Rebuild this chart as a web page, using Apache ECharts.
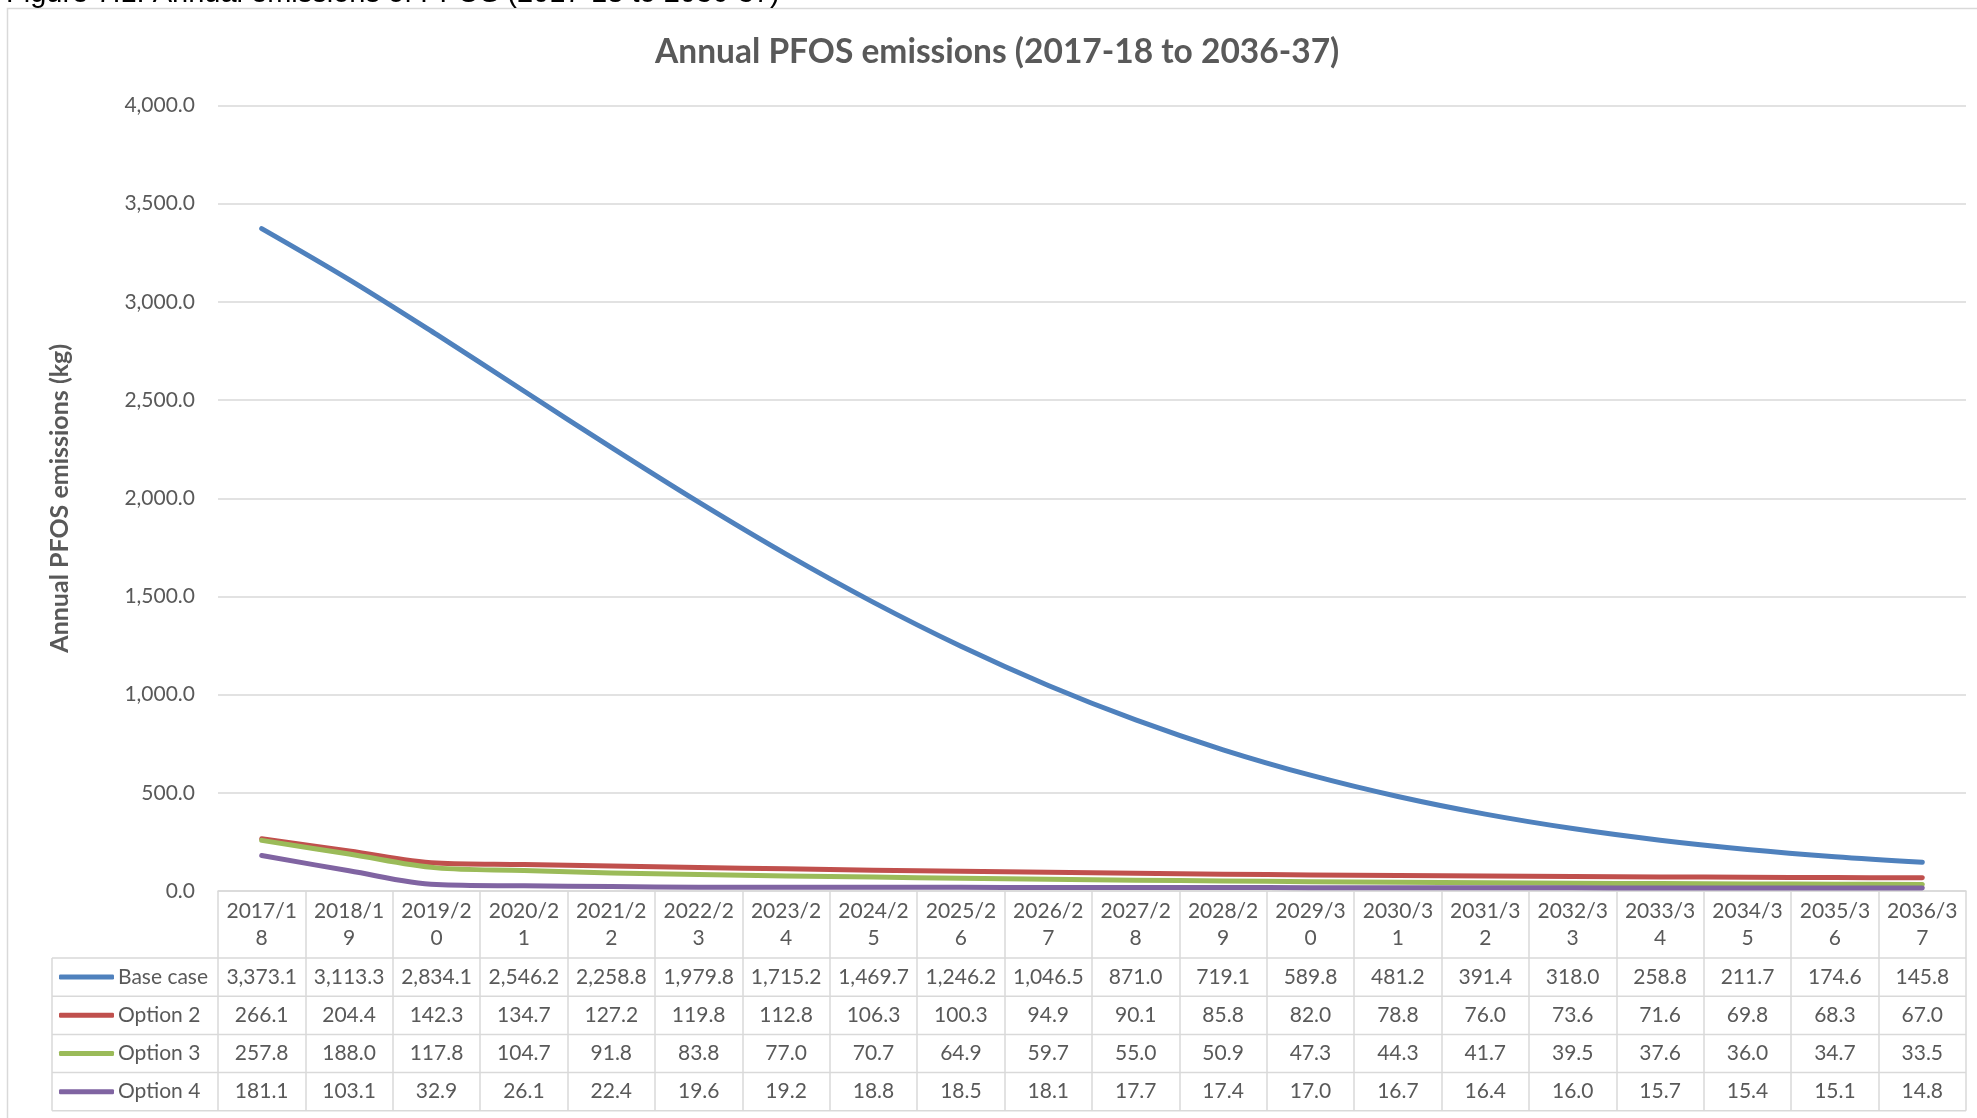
<!DOCTYPE html>
<html>
<head>
<meta charset="utf-8">
<title>Annual PFOS emissions</title>
<script src="https://cdn.jsdelivr.net/npm/echarts@6/dist/echarts.min.js"></script>
<style>
  html, body { margin: 0; padding: 0; background: #fff; }
  #main { width: 1977px; height: 1118px; }
</style>
</head>
<body>
<div id="main"></div>
<script>
const categories = ['2017/18', '2018/19', '2019/20', '2020/21', '2021/22', '2022/23', '2023/24', '2024/25', '2025/26', '2026/27',
  '2027/28', '2028/29', '2029/30', '2030/31', '2031/32', '2032/33', '2033/34', '2034/35', '2035/36', '2036/37'];
const seriesNames = ['Base case', 'Option 2', 'Option 3', 'Option 4'];
const baseCase = [3373.1, 3113.3, 2834.1, 2546.2, 2258.8, 1979.8, 1715.2, 1469.7, 1246.2, 1046.5,
  871.0, 719.1, 589.8, 481.2, 391.4, 318.0, 258.8, 211.7, 174.6, 145.8];
const option2 = [266.1, 204.4, 142.3, 134.7, 127.2, 119.8, 112.8, 106.3, 100.3, 94.9,
  90.1, 85.8, 82.0, 78.8, 76.0, 73.6, 71.6, 69.8, 68.3, 67.0];
const option3 = [257.8, 188.0, 117.8, 104.7, 91.8, 83.8, 77.0, 70.7, 64.9, 59.7,
  55.0, 50.9, 47.3, 44.3, 41.7, 39.5, 37.6, 36.0, 34.7, 33.5];
const option4 = [181.1, 103.1, 32.9, 26.1, 22.4, 19.6, 19.2, 18.8, 18.5, 18.1,
  17.7, 17.4, 17.0, 16.7, 16.4, 16.0, 15.7, 15.4, 15.1, 14.8];
const seriesValues = [baseCase, option2, option3, option4];
const colors = ['#4f81bd', '#c0504d', '#9bbb59', '#8064a2'];

// layout (px)
const W = 1977, H = 1118;
const plotLeft = 218, plotRight = 1966, plotTop = 105.5, plotBottom = 891;
const tableLeft = 52, headerH = 67, rowH = 38.2;
const textColor = '#595959';
const borderColor = '#d9d9d9';
const font = 'Lato, "Open Sans", sans-serif';

const fmt = v => v.toLocaleString('en-US', { minimumFractionDigits: 1, maximumFractionDigits: 1 });

const chart = echarts.init(document.getElementById('main'));

// one x axis per table row, labels centred in each column
const rowAxes = seriesValues.map((vals, i) => ({
  type: 'category',
  gridIndex: 0,
  position: 'bottom',
  data: vals.map(fmt),
  axisLine: { show: false },
  axisTick: { show: false },
  splitLine: { show: false },
  axisLabel: {
    interval: 0,
    color: textColor,
    fontFamily: font,
    fontSize: 21,
    verticalAlign: 'middle',
    margin: headerH + rowH * i + rowH / 2
  }
}));

const tableBottom = plotBottom + headerH + rowH * 4;
const borders = [];
for (let i = 0; i <= 4; i++) {
  const y = plotBottom + headerH + rowH * i;
  borders.push({
    type: 'line',
    shape: { x1: tableLeft, y1: y, x2: plotRight, y2: y },
    style: { stroke: borderColor, lineWidth: 1.5 }
  });
}
borders.push({
  type: 'line',
  shape: { x1: tableLeft, y1: plotBottom + headerH, x2: tableLeft, y2: tableBottom },
  style: { stroke: borderColor, lineWidth: 1.5 }
});

chart.setOption({
  backgroundColor: '#fff',
  animation: false,
  color: colors,
  title: {
    text: 'Annual PFOS emissions (2017-18 to 2036-37)',
    left: 650,
    top: 30,
    textStyle: { fontFamily: font, fontSize: 33.5, fontWeight: 'bold', color: textColor }
  },
  legend: {
    orient: 'vertical',
    left: 54,
    top: plotBottom + headerH + rowH / 2 - 16,
    itemWidth: 55,
    itemHeight: 5,
    itemGap: rowH - 22,
    icon: 'roundRect',
    selectedMode: false,
    data: seriesNames,
    textStyle: { fontFamily: font, fontSize: 21, color: textColor, lineHeight: 22, padding: [0, 0, 0, -1] }
  },
  grid: {
    left: plotLeft,
    right: W - plotRight,
    top: plotTop,
    bottom: H - plotBottom,
    containLabel: false,
    outerBoundsMode: 'none'
  },
  xAxis: [{
    type: 'category',
    gridIndex: 0,
    position: 'bottom',
    data: categories,
    boundaryGap: true,
    axisLine: { show: true, lineStyle: { color: borderColor, width: 1.5 } },
    axisTick: {
      show: true,
      interval: 0,
      length: tableBottom - plotBottom,
      lineStyle: { color: borderColor, width: 1.5 }
    },
    splitLine: { show: false },
    axisLabel: {
      interval: 0,
      color: textColor,
      fontFamily: font,
      fontSize: 21,
      lineHeight: 27,
      verticalAlign: 'middle',
      margin: headerH / 2,
      formatter: v => v.slice(0, 6) + '\n' + v.slice(6)
    }
  }].concat(rowAxes),
  yAxis: {
    type: 'value',
    min: 0,
    max: 4000,
    interval: 500,
    name: 'Annual PFOS emissions (kg)',
    nameLocation: 'middle',
    nameGap: 146,
    nameRotate: 90,
    nameTextStyle: { fontFamily: font, fontSize: 25, fontWeight: 'bold', color: textColor },
    axisLine: { show: false },
    axisTick: { show: false },
    axisLabel: { color: textColor, fontFamily: font, fontSize: 21, margin: 23, formatter: fmt },
    splitLine: { lineStyle: { color: borderColor, width: 1.5 } }
  },
  series: seriesNames.map((name, i) => ({
    name: name,
    type: 'line',
    xAxisIndex: 0,
    data: seriesValues[i],
    smooth: 0.35,
    showSymbol: false,
    symbol: 'none',
    lineStyle: { color: colors[i], width: 5, cap: 'round', join: 'round' },
    itemStyle: { color: colors[i] }
  })),
  graphic: [
    {
      type: 'rect',
      shape: { x: 7.5, y: 8.5, width: 2100, height: 1200 },
      style: { fill: null, stroke: borderColor, lineWidth: 1.5 },
      silent: true
    },
    {
      type: 'text',
      x: 6,
      y: -6,
      style: {
        text: 'Figure 7.1: Annual emissions of PFOS (2017-18 to 2036-37)',
        font: '29px "Liberation Sans", Arial, sans-serif',
        fill: '#000',
        verticalAlign: 'middle'
      }
    }
  ].concat(borders)
});
</script>
</body>
</html>
